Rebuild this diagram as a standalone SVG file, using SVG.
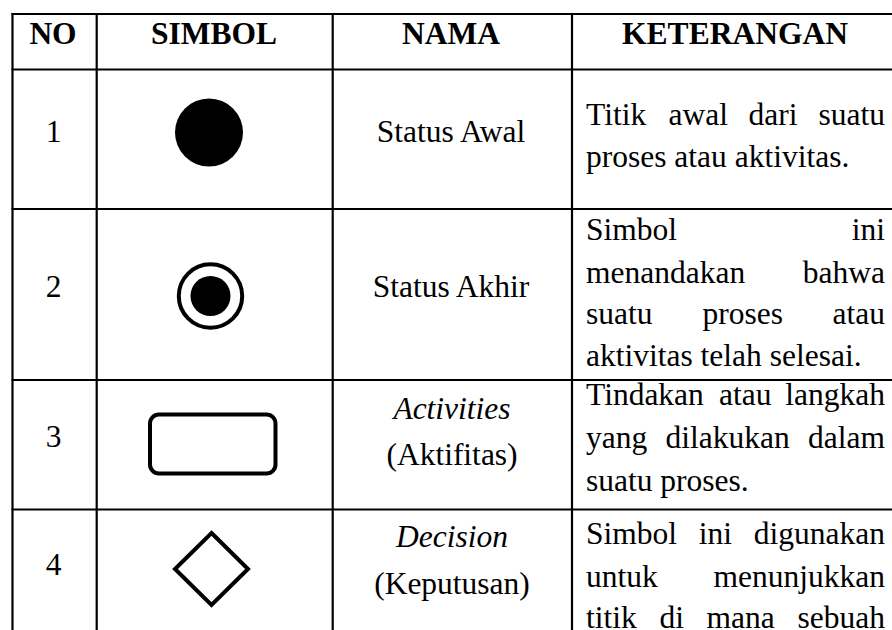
<svg xmlns="http://www.w3.org/2000/svg" width="892" height="630" viewBox="0 0 892 630">
  <style>
    .grid { stroke: #000; stroke-width: 2.2; fill: none; }
    .hd { font-family: "Liberation Serif", "Times New Roman", serif; font-weight: bold; font-size: 31.5px; fill: #000; text-anchor: middle; }
    .tx { font-family: "Liberation Serif", "Times New Roman", serif; font-size: 31.5px; fill: #000; }
    .c { text-anchor: middle; }
    .r { text-anchor: end; }
    .it { font-style: italic; }
    .sym { stroke: #000; stroke-width: 4; fill: none; }
  </style>
  <rect width="892" height="630" fill="#fff"/>

  <!-- table grid -->
  <g id="grid" class="grid">
    <line x1="11.5" y1="14" x2="892" y2="14"/>
    <line x1="11.5" y1="69.5" x2="892" y2="69.5"/>
    <line x1="11.5" y1="209" x2="892" y2="209"/>
    <line x1="11.5" y1="380" x2="892" y2="380"/>
    <line x1="11.5" y1="509.5" x2="892" y2="509.5"/>
    <line x1="12.5" y1="13" x2="12.5" y2="630"/>
    <line x1="96.7" y1="13" x2="96.7" y2="630"/>
    <line x1="332.7" y1="13" x2="332.7" y2="630"/>
    <line x1="572" y1="13" x2="572" y2="630"/>
  </g>

  <!-- header row -->
  <g id="header">
    <text class="hd" x="53" y="44">NO</text>
    <text class="hd" x="214" y="44">SIMBOL</text>
    <text class="hd" x="451" y="44">NAMA</text>
    <text class="hd" x="735" y="44">KETERANGAN</text>
  </g>

  <!-- 1: initial state; description lines are justified word by word -->
  <g id="row1">
    <text class="tx c" x="53.5" y="142">1</text>
    <circle cx="209" cy="132.5" r="34" fill="#000"/>
    <text class="tx c" x="451" y="142">Status Awal</text>
    <text class="tx" x="586" y="125">Titik</text>
    <text class="tx" x="668.5" y="125">awal</text>
    <text class="tx" x="748.5" y="125">dari</text>
    <text class="tx r" x="885" y="125">suatu</text>
    <text class="tx" x="586" y="167">proses atau aktivitas.</text>
  </g>

  <!-- 2: final state -->
  <g id="row2">
    <text class="tx c" x="53.5" y="297">2</text>
    <circle class="sym" cx="210.5" cy="296" r="31.7"/>
    <circle cx="210.5" cy="296" r="20" fill="#000"/>
    <text class="tx c" x="451" y="297">Status Akhir</text>
    <text class="tx" x="586" y="240">Simbol</text>
    <text class="tx r" x="885" y="240">ini</text>
    <text class="tx" x="586" y="282.5">menandakan</text>
    <text class="tx r" x="885" y="282.5">bahwa</text>
    <text class="tx" x="586" y="324">suatu</text>
    <text class="tx" x="702.5" y="324">proses</text>
    <text class="tx r" x="885" y="324">atau</text>
    <text class="tx" x="586" y="366">aktivitas telah selesai.</text>
  </g>

  <!-- 3: activity -->
  <g id="row3">
    <text class="tx c" x="53.5" y="447">3</text>
    <rect class="sym" x="150" y="414.5" width="125.5" height="59" rx="9"/>
    <text class="tx c it" x="452" y="418.5">Activities</text>
    <text class="tx c" x="452" y="465">(Aktifitas)</text>
    <text class="tx" x="586" y="405">Tindakan</text>
    <text class="tx" x="719" y="405">atau</text>
    <text class="tx r" x="885" y="405">langkah</text>
    <text class="tx" x="586" y="448">yang</text>
    <text class="tx" x="665.5" y="448">dilakukan</text>
    <text class="tx r" x="885" y="448">dalam</text>
    <text class="tx" x="586" y="491">suatu proses.</text>
  </g>

  <!-- 4: decision -->
  <g id="row4">
    <text class="tx c" x="53.5" y="575">4</text>
    <polygon class="sym" points="211.5,533 248,569 211.5,605 175,569"/>
    <text class="tx c it" x="452" y="547">Decision</text>
    <text class="tx c" x="452" y="593.5">(Keputusan)</text>
    <text class="tx" x="586" y="543.5">Simbol</text>
    <text class="tx" x="698.7" y="543.5">ini</text>
    <text class="tx r" x="885" y="543.5">digunakan</text>
    <text class="tx" x="586" y="586.5">untuk</text>
    <text class="tx r" x="885" y="586.5">menunjukkan</text>
    <text class="tx" x="586" y="627.5">titik</text>
    <text class="tx" x="659.5" y="627.5">di</text>
    <text class="tx" x="706.5" y="627.5">mana</text>
    <text class="tx r" x="885" y="627.5">sebuah</text>
  </g>
</svg>
